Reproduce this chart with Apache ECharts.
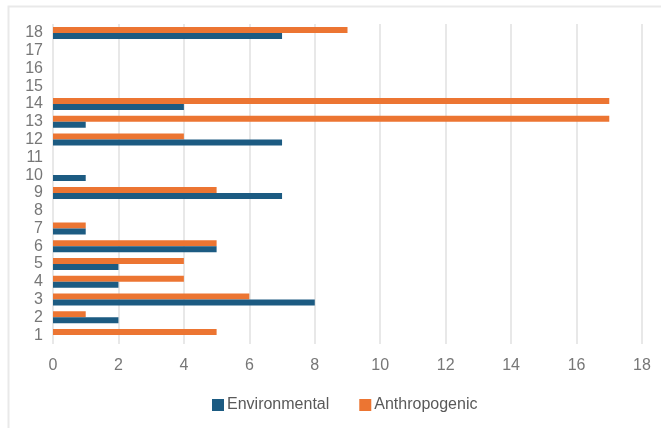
<!DOCTYPE html>
<html>
<head>
<meta charset="utf-8">
<script src="https://cdn.jsdelivr.net/npm/echarts@6/dist/echarts.min.js"></script>
<style>
  html, body { margin: 0; padding: 0; background: #fff; }
  #chart { width: 661px; height: 428px; }
</style>
</head>
<body>
<div id="chart"></div>
<script>
// Site numbers along the vertical axis
const categories = ['1','2','3','4','5','6','7','8','9','10','11','12','13','14','15','16','17','18'];
// Counts per site
const environmental = [0, 2, 8, 2, 2, 5, 1, 0, 7, 1, 0, 7, 1, 4, 0, 0, 0, 7];
const anthropogenic = [5, 1, 6, 4, 4, 5, 1, 0, 5, 0, 0, 4, 17, 17, 0, 0, 0, 9];
const xTicks = { min: 0, max: 18, interval: 2 };

const font = 'Liberation Sans, Arial, sans-serif';
const chart = echarts.init(document.getElementById('chart'));
chart.setOption({
  backgroundColor: '#fff',
  animation: false,
  graphic: [{
    type: 'rect',
    shape: { x: 8.5, y: 6.5, width: 700, height: 500 },
    style: { fill: 'none', stroke: '#e9e9e9', lineWidth: 2 },
    silent: true
  }],
  grid: { left: 53, right: 19, top: 24, bottom: 84 },
  legend: {
    left: 212, top: 397, padding: 0,
    itemWidth: 12, itemHeight: 12, itemGap: 30,
    icon: 'rect',
    textStyle: { fontFamily: font, fontSize: 16, color: '#595959', padding: [0, 0, 0, -2] },
    data: ['Environmental', 'Anthropogenic']
  },
  xAxis: {
    type: 'value',
    min: xTicks.min, max: xTicks.max, interval: xTicks.interval,
    axisLine: { show: false },
    axisTick: { show: false },
    axisLabel: { fontFamily: font, fontSize: 16, color: '#777', margin: 14 },
    splitLine: { lineStyle: { color: '#e8e8e8', width: 2 } }
  },
  yAxis: {
    type: 'category',
    data: categories,
    axisLine: { show: false },
    axisTick: { show: false },
    axisLabel: { fontFamily: font, fontSize: 16, color: '#777', margin: 10, interval: 0, lineHeight: 16 }
  },
  // Anthropogenic listed first so it sits above Environmental within each row
  series: [
    {
      name: 'Anthropogenic', type: 'bar', data: anthropogenic,
      barWidth: 6, barGap: '0%',
      itemStyle: { color: '#ec7532' }
    },
    {
      name: 'Environmental', type: 'bar', data: environmental,
      barWidth: 6, barGap: '0%',
      itemStyle: { color: '#1c5b82' }
    }
  ]
});
</script>
</body>
</html>
